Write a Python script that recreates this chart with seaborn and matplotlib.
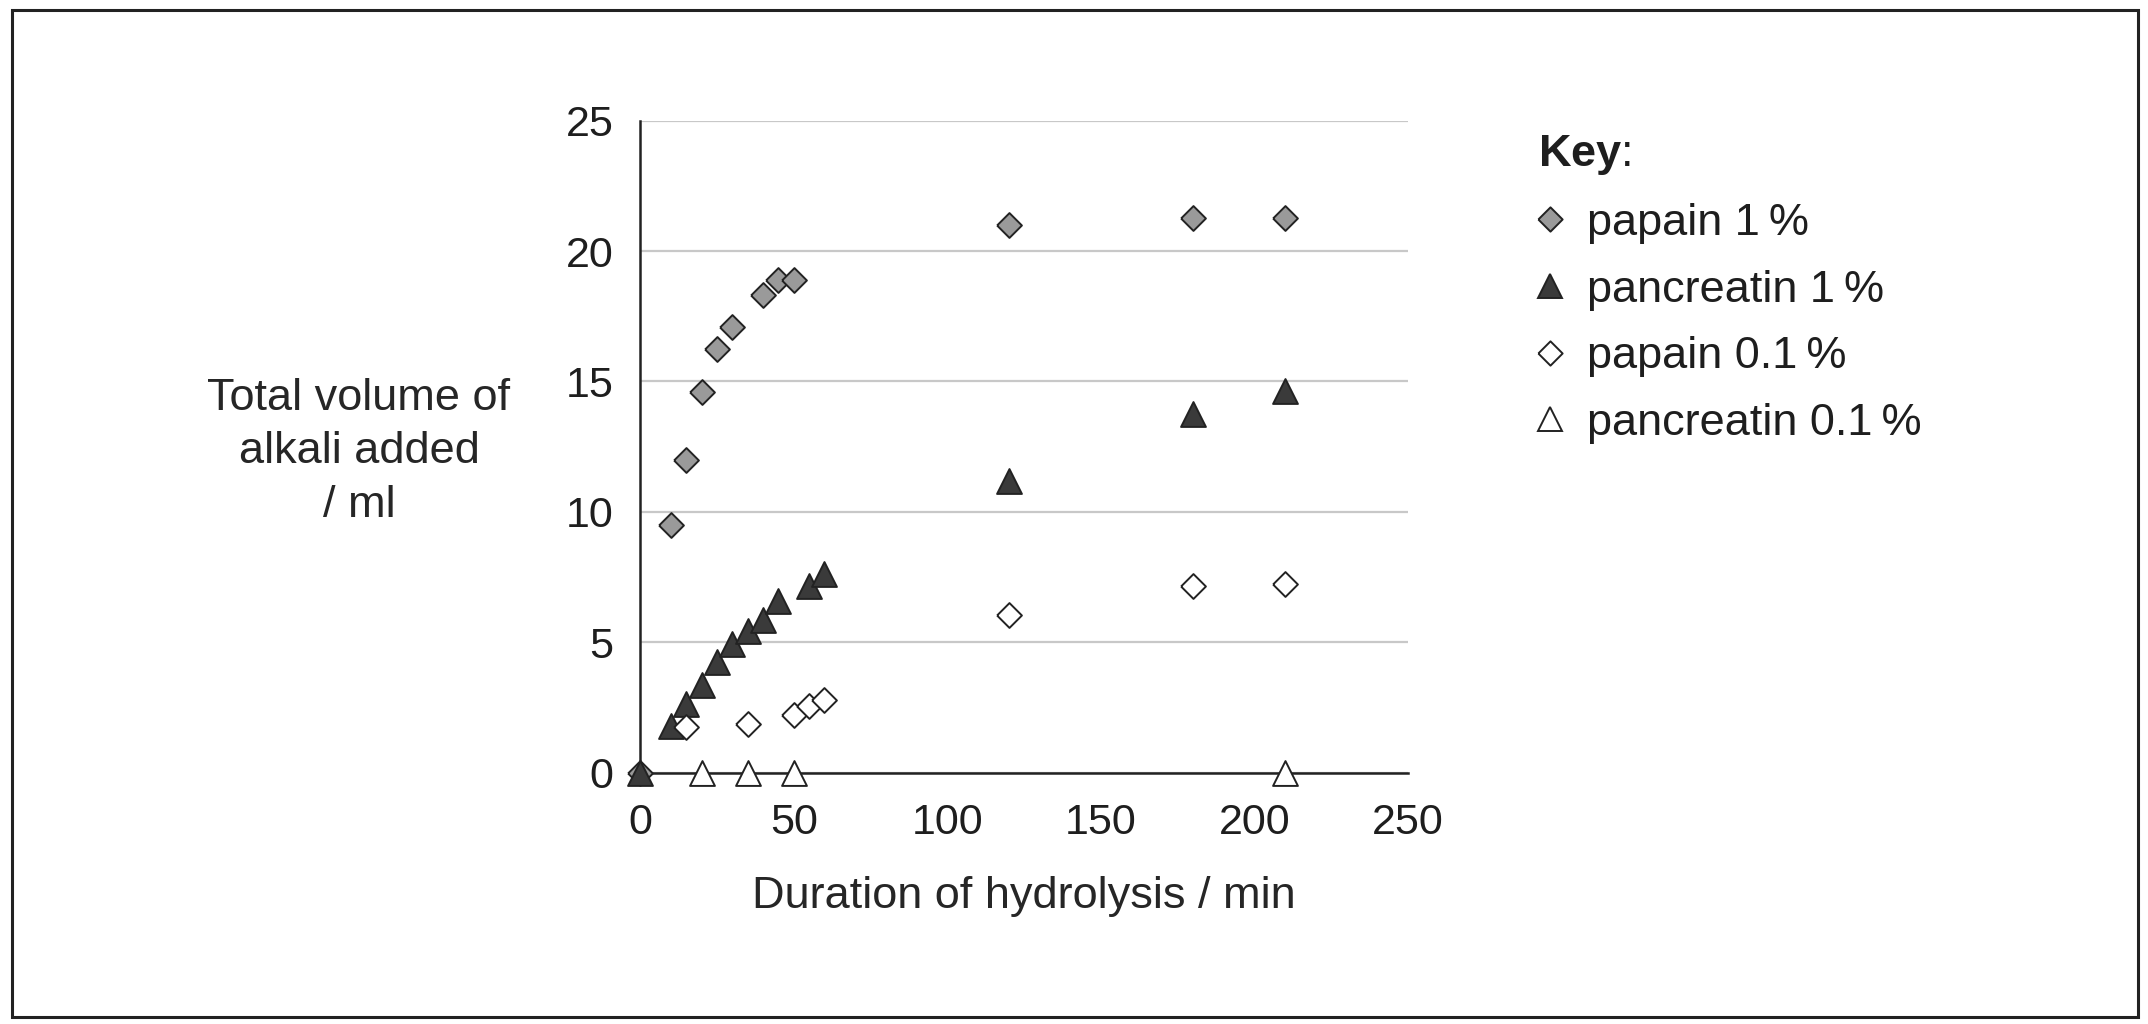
import matplotlib
matplotlib.use('Agg')
import matplotlib.pyplot as plt
from matplotlib.lines import Line2D
from matplotlib.patches import Rectangle
import seaborn as sns
import pandas as pd
import numpy as np

# values
papain_1_t = [0, 10, 15, 20, 25, 30, 40, 45, 50, 120, 180, 210]
papain_1_v = [0, 9.5, 12.0, 14.6, 16.25, 17.1, 18.3, 18.9, 18.9, 21.0, 21.25, 21.25]
pancr_1_t = [0, 10, 15, 20, 25, 30, 35, 40, 45, 55, 60, 120, 180, 210]
pancr_1_v = [0, 1.8, 2.65, 3.35, 4.25, 4.95, 5.45, 5.85, 6.6, 7.15, 7.6, 11.2, 13.75, 14.65]
papain_01_t = [15, 35, 50, 55, 60, 120, 180, 210]
papain_01_v = [1.75, 1.85, 2.2, 2.55, 2.8, 6.05, 7.15, 7.25]
pancr_01_t = [20, 35, 50, 210]
pancr_01_v = [0, 0, 0, 0]

labels = ['papain 1\u2009%', 'pancreatin 1\u2009%', 'papain 0.1\u2009%', 'pancreatin 0.1\u2009%']
fills = ['#9a9a9a', '#3a3a3a', 'white', 'white']
edge = '#222222'
diamond = [(-1, 0), (0, 1), (1, 0), (0, -1), (-1, 0)]
shapes = [diamond, '^', diamond, '^']

series = [(papain_1_t, papain_1_v), (pancr_1_t, pancr_1_v),
          (papain_01_t, papain_01_v), (pancr_01_t, pancr_01_v)]

sns.set_style('white')
plt.rcParams['font.family'] = ['Liberation Sans', 'DejaVu Sans']
plt.rcParams['text.color'] = '#1e1e1e'
plt.rcParams['mathtext.fontset'] = 'custom'
plt.rcParams['mathtext.rm'] = 'Liberation Sans'
plt.rcParams['mathtext.bf'] = 'Liberation Sans:bold'

fig = plt.figure(figsize=(21.48, 10.24), dpi=100)
ax = fig.add_axes([0.298, 0.2454, 0.3575, 0.6368])

for i, (t, v) in enumerate(series):
    df = pd.DataFrame({'t': t, 'v': v})
    sns.scatterplot(data=df, x='t', y='v', ax=ax, marker=shapes[i], s=320,
                    color=fills[i], edgecolor=edge, linewidth=1.4,
                    clip_on=False, zorder=3 + i, legend=False)

ax.set_xlim(0, 250)
ax.set_ylim(0, 25)
ax.set_xticks(np.arange(0, 251, 50))
ax.set_yticks(np.arange(0, 26, 5))
ax.yaxis.grid(True, color='#c8c8c8', linewidth=1.6)
ax.set_axisbelow(True)
sns.despine(ax=ax)
for sp in ['left', 'bottom']:
    ax.spines[sp].set_color('#222222')
    ax.spines[sp].set_linewidth(1.8)
ax.tick_params(axis='both', direction='out', width=1.8, color='#222222',
               labelsize=31, labelcolor='#1e1e1e')
ax.tick_params(axis='x', length=11, pad=11)
ax.tick_params(axis='y', length=13, pad=6)

ax.set_xlabel('Duration of hydrolysis / min', fontsize=32.5)
ax.xaxis.label.set_va('center')
ax.xaxis.set_label_coords(0.5, -0.19)
ax.set_ylabel('Total volume of\nalkali added\n/ ml', fontsize=32.5, rotation=0,
              ha='center', va='center', linespacing=1.4)
ax.yaxis.set_label_coords(-0.366, 0.492)

handles = [Line2D([], [], ls='', marker=shapes[i], markersize=17.5, markerfacecolor=fills[i],
                  markeredgecolor=edge, markeredgewidth=1.4) for i in range(4)]
leg = fig.legend(handles, labels, loc='upper left', bbox_to_anchor=(0.716, 0.87),
                 frameon=False, fontsize=32.5, title=r'$\mathbf{Key}$:', title_fontsize=32.5,
                 alignment='left', handlelength=0.55, handletextpad=0.53, labelspacing=0.57,
                 borderpad=0, borderaxespad=0)

fig.patches.append(Rectangle((12 / 2148, 1 - 1017 / 1024), (2138 - 12) / 2148, (1017 - 10) / 1024,
                             transform=fig.transFigure, fill=False, edgecolor='#222222',
                             linewidth=2.2))

fig.savefig('out.png', dpi=100)
